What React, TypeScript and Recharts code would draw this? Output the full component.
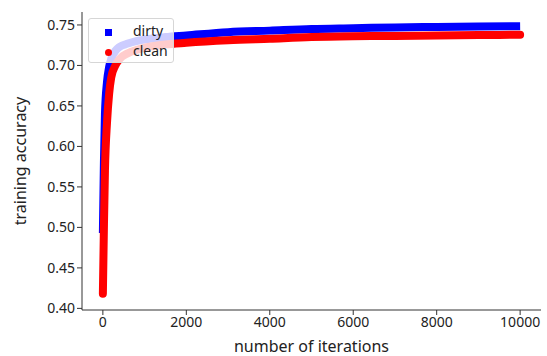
import React from 'react';
import { LineChart, Line, XAxis, YAxis } from 'recharts';

// iterations sampled along the training run
const iterations = [0, 25, 50, 100, 150, 200, 300, 400, 600, 800, 1000, 1500, 2000, 3000, 4000, 5000, 6000, 7000, 8000, 9000, 10000];
const dirtyAcc = [0.493, 0.58, 0.64, 0.68, 0.698, 0.708, 0.718, 0.723, 0.727, 0.73, 0.732, 0.735, 0.737, 0.741, 0.743, 0.745, 0.746, 0.747, 0.7475, 0.748, 0.7485];
const cleanAcc = [0.418, 0.5, 0.57, 0.63, 0.665, 0.685, 0.7, 0.708, 0.715, 0.719, 0.722, 0.726, 0.728, 0.731, 0.733, 0.735, 0.736, 0.7365, 0.737, 0.7375, 0.738];
const xTicks = [0, 2000, 4000, 6000, 8000, 10000];
const yTicks = [0.4, 0.45, 0.5, 0.55, 0.6, 0.65, 0.7, 0.75];

const data = iterations.map((it, i) => ({ it, dirty: dirtyAcc[i], clean: cleanAcc[i] }));

const FONT = '"Noto Sans", sans-serif';
const AXIS = '#333';

const App: React.FC = () => {
  return (
    <div style={{ position: 'absolute', left: 0, top: 0, width: 547, height: 356, background: '#fff', fontFamily: FONT }}>
      <LineChart width={547} height={356} data={data} margin={{ top: 12, right: 6, bottom: 0, left: 0 }}>
        <XAxis
          dataKey="it"
          type="number"
          domain={[-500, 10500]}
          ticks={xTicks}
          tickLine={{ stroke: AXIS }}
          axisLine={{ stroke: AXIS }}
          tickSize={5}
          tick={{ fill: '#222', fontSize: 14, fontFamily: FONT }}
          height={46}
          label={{ value: 'number of iterations', position: 'insideBottom', offset: 4, style: { fill: '#222', fontSize: 16, fontFamily: FONT } }}
        />
        <XAxis xAxisId="top" orientation="top" type="number" domain={[-500, 10500]} tick={false} tickLine={false} height={0} axisLine={{ stroke: AXIS }} />
        <YAxis
          type="number"
          domain={[0.398, 0.766]}
          ticks={yTicks}
          tickFormatter={(v: number) => v.toFixed(2)}
          tickLine={{ stroke: AXIS }}
          axisLine={{ stroke: AXIS }}
          tickSize={5}
          tick={{ fill: '#222', fontSize: 14, fontFamily: FONT }}
          width={82}
          label={{ value: 'training accuracy', angle: -90, position: 'insideLeft', offset: 20, style: { fill: '#222', fontSize: 16, fontFamily: FONT, textAnchor: 'middle' } }}
        />
        <YAxis yAxisId="right" orientation="right" type="number" tick={false} tickLine={false} width={0} axisLine={{ stroke: AXIS }} />
        <Line dataKey="dirty" stroke="#0000ff" strokeWidth={8} strokeLinecap="butt" dot={false} type="monotone" isAnimationActive={false} />
        <Line dataKey="clean" stroke="#ff0000" strokeWidth={8} strokeLinecap="round" dot={false} type="monotone" isAnimationActive={false} />
      </LineChart>
      <div
        style={{
          position: 'absolute', left: 88, top: 18, width: 86, height: 45, boxSizing: 'border-box',
          background: 'rgba(255,255,255,0.8)', border: '1px solid #d6d6d6', borderRadius: 3,
          fontSize: 14, color: '#222',
        }}
      >
        <div style={{ position: 'absolute', left: 16, top: 10, width: 7, height: 7, background: '#0000ff' }} />
        <div style={{ position: 'absolute', left: 44, top: 2, lineHeight: '20px' }}>dirty</div>
        <div style={{ position: 'absolute', left: 16, top: 30, width: 7, height: 7, borderRadius: '50%', background: '#ff0000' }} />
        <div style={{ position: 'absolute', left: 44, top: 22, lineHeight: '20px' }}>clean</div>
      </div>
    </div>
  );
};

export default App;
